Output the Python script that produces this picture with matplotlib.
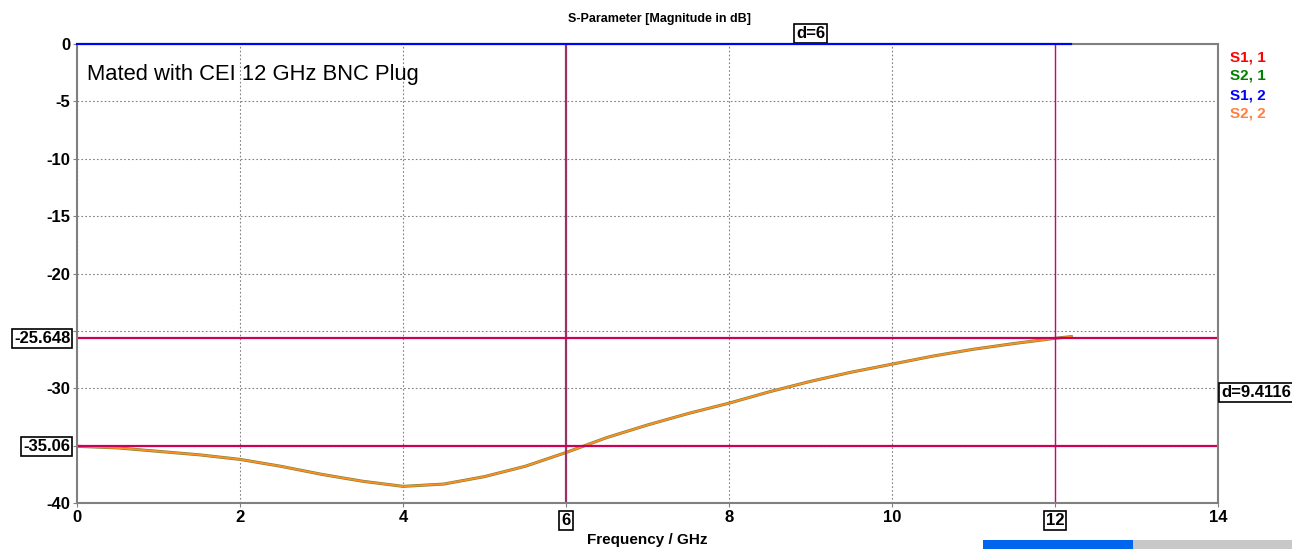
import numpy as np
import matplotlib
matplotlib.use("Agg")
import matplotlib.pyplot as plt
from matplotlib.patches import Rectangle

plt.rcParams['font.family'] = ['Liberation Sans', 'DejaVu Sans']

# S2,2 return loss (GHz, dB)
freq = [0, 0.5, 1, 1.5, 2, 2.5, 3, 3.5, 4, 4.5, 5, 5.5, 6, 6.5, 7, 7.5, 8, 8.5, 9, 9.5, 10, 10.5, 11, 11.5, 12, 12.2]
s22 = [-35.06, -35.2, -35.5, -35.8, -36.2, -36.8, -37.5, -38.1, -38.55, -38.35, -37.7, -36.8, -35.6, -34.3, -33.2, -32.2, -31.3, -30.3, -29.4, -28.6, -27.9, -27.2, -26.6, -26.1, -25.65, -25.5]
# transmission (S2,1 / S1,2) stays at 0 dB
freq_t = [0, 12.2]
s21 = [0, 0]
s12 = [0, 0]

marker_x = [6, 12]
marker_y = [-25.648, -35.06]
legend_names = ["S1, 1", "S2, 1", "S1, 2", "S2, 2"]
legend_cols = ["#ff0000", "#008000", "#0000ff", "#ff8040"]

fig = plt.figure(figsize=(12.92, 5.49), dpi=100)
ax = fig.add_axes([77/1292, 1-503/549, (1218-77)/1292, (503-44)/549])

ax.plot(freq_t, s21, color="#008000", lw=1.5, clip_on=False, zorder=5)
ax.plot(freq_t, s12, color="#0000ff", lw=1.5, clip_on=False, zorder=6)
ax.plot(freq, s22, color="#808040", lw=2.2)
ax.plot(freq, s22, color="#ff9020", lw=1.3)

# markers
ax.axvline(marker_x[0], color="#993366", lw=1.6)
ax.axvline(marker_x[1], color="#cc0080", lw=1.0)
for yv in marker_y:
    ax.axhline(yv, color="#cc0055", lw=1.6)

ax.set_xlim(0, 14)
ax.set_ylim(-40, 0)
ax.set_xticks(np.arange(0, 15, 2))
ax.set_yticks(np.arange(-40, 1, 5))
ax.set_xticklabels(["" if v in marker_x else str(v) for v in range(0, 15, 2)],
                   fontweight="bold", fontsize=12)
ax.set_yticklabels(["" if v in (-25, -35) else str(v) for v in range(-40, 1, 5)],
                   fontweight="bold", fontsize=12)
ax.tick_params(length=3, color="#808080", pad=2)
ax.grid(True, color="#808080", ls=(0, (1.5, 2)), lw=0.8)
for s in ax.spines.values():
    s.set_color("#808080")
    s.set_linewidth(1.5)

box = dict(boxstyle="square,pad=0.12", fc="white", ec="black", lw=1.2)
for xv in marker_x:
    ax.text(xv, -40.9, str(xv), ha="center", va="top", fontsize=12,
            fontweight="bold", bbox=box)
for yv in marker_y:
    ax.text(-0.08, yv, str(yv), ha="right", va="center", fontsize=12,
            fontweight="bold", bbox=box)
ax.text(9.0, 0.95, "d=6", ha="center", va="center", fontsize=12,
        fontweight="bold", bbox=box)
ax.text(14.04, -30.33, "d=9.4116", ha="left", va="center", fontsize=12,
        fontweight="bold", bbox=box)

ax.text(0.12, -2.65, "Mated with CEI 12 GHz BNC Plug", fontsize=15.8, va="center")
fig.text(660/1292, 1-19/549, "S-Parameter [Magnitude in dB]", fontsize=9,
         fontweight="bold", ha="center", va="center")
ax.set_xlabel("Frequency / GHz", fontsize=11, fontweight="bold", labelpad=6)

for i, (nm, c) in enumerate(zip(legend_names, legend_cols)):
    fig.text(1230/1292, 1-(57+19*i)/549, nm, color=c, fontsize=11,
             fontweight="bold", va="center")

# scrollbar strip at bottom right
fig.patches.append(Rectangle((983/1292, 0), 150/1292, 9/549, transform=fig.transFigure,
                             fc="#0066ee", ec="none"))
fig.patches.append(Rectangle((1133/1292, 0), 159/1292, 9/549, transform=fig.transFigure,
                             fc="#c8c8c8", ec="none"))

fig.savefig("out.png", dpi=100)
